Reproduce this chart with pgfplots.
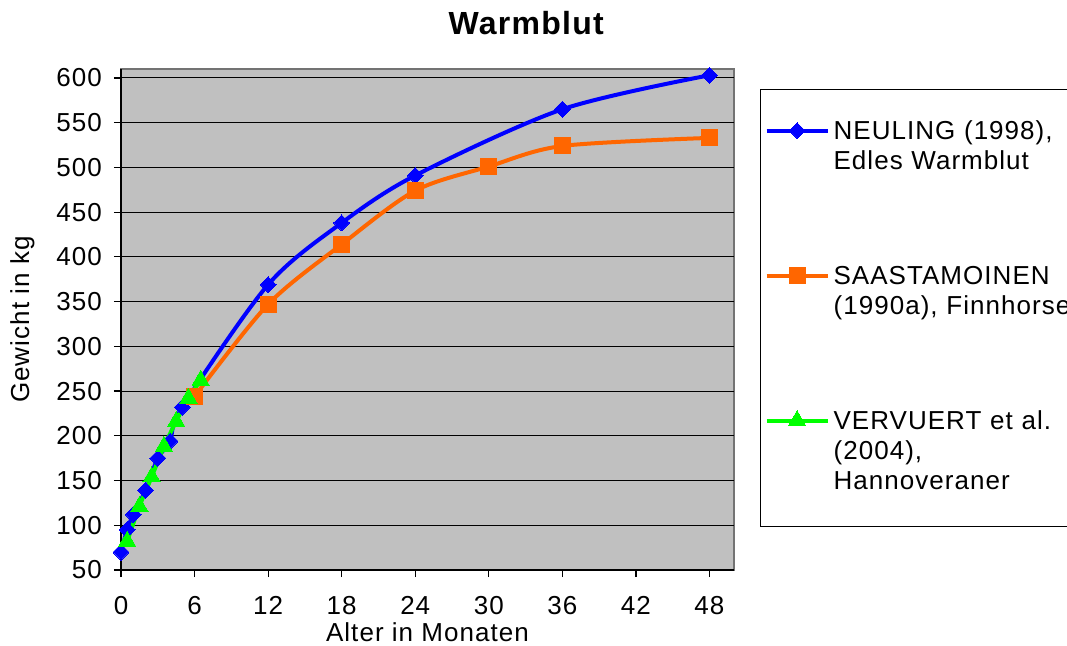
\documentclass[border=0pt]{standalone}
\usepackage{pgfplots}
\pgfplotsset{compat=1.18}
\usepackage{fontspec}
\setmainfont{Liberation Sans}[LetterSpace=4]
\definecolor{plotgray}{HTML}{C0C0C0}
\definecolor{xblue}{HTML}{0000FF}
\definecolor{xorange}{HTML}{FF6600}
\definecolor{xgreen}{HTML}{00FF00}
\begin{document}
\begin{tikzpicture}
\begin{axis}[
  name=ax,
  scale only axis,
  width=306.5pt, height=250.5pt,
  xmin=0, xmax=50, ymin=50, ymax=610,
  axis lines=left,
  axis line style={-, black, line width=0.75pt},
  axis background/.style={fill=plotgray, draw=gray!90!black, line width=1pt},
  xtick={0,6,...,48},
  ytick={50,100,...,600},
  tick align=outside,
  major tick length=3.5pt,
  tick style={black, line width=0.6pt},
  ymajorgrids,
  grid style={black, line width=0.5pt},
  /pgf/number format/assume math mode=true,
  tick label style={font=\fontsize{13}{15}\selectfont},
  xticklabel style={yshift=-6pt},
  yticklabel style={xshift=-2.5pt},
  label style={font=\fontsize{13}{15}\selectfont},
  xlabel={Alter in Monaten},
  xlabel style={at={(axis description cs:0.5,-0.142)}, anchor=base},
  ylabel={Gewicht in kg},
  ylabel style={at={(axis description cs:-0.150,0.5)}, anchor=base},
  title={\textbf{Warmblut}},
  title style={font=\fontsize{16}{19}\selectfont, at={(axis description cs:0.662,1)}, anchor=base, yshift=11.5pt},
  legend style={
    at={(axis description cs:1.0424,0.960)}, anchor=north west,
    draw=black, line width=0.6pt, fill=white,
    font=\fontsize{13}{15}\selectfont,
    inner xsep=2pt, inner ysep=15pt,
    cells={anchor=base west},
    nodes={inner sep=0pt, text width=150pt, align=left, text height=10pt, text depth=18.5pt},
    column sep=2pt,
    row sep=44pt,
  },
  legend image code/.code={
    \draw[mark repeat=2, mark phase=2] plot coordinates {(0pt,4.5pt) (15.25pt,4.5pt) (30.5pt,4.5pt)};
  },
]
\addplot[xblue, line width=2pt, smooth, mark=square*, mark size=2.8pt, mark options={rotate=45, solid, fill=xblue, line width=0pt}]
  coordinates {(0,70) (0.5,95) (1,112) (2,139) (3,175) (4,194) (5,232) (12,369) (18,438) (24,491) (36,565) (48,603)};
\addlegendentry{NEULING (1998),\\Edles Warmblut}
\addplot[xorange, line width=2pt, smooth, mark=square*, mark size=4pt, mark options={solid, fill=xorange, line width=0pt}]
  coordinates {(6,244) (12,347) (18,414) (24,474) (30,501) (36,524) (48,533)};
\addlegendentry{SAASTAMOINEN\\(1990a), Finnhorse}
\addplot[xgreen, line width=2pt, smooth, mark=triangle*, mark size=5pt, mark options={solid, fill=xgreen, line width=0pt}]
  coordinates {(0.5,82) (1.5,121) (2.5,154) (3.5,188) (4.5,216) (5.5,242) (6.5,262)};
\addlegendentry[text depth=33.5pt]{VERVUERT et al.\\(2004),\\Hannoveraner}
\end{axis}
\pgfresetboundingbox
\path[use as bounding box] ([xshift=-60.5pt,yshift=-37.5pt]ax.south west) rectangle ([xshift=473pt,yshift=285pt]ax.south west);
\end{tikzpicture}
\end{document}
